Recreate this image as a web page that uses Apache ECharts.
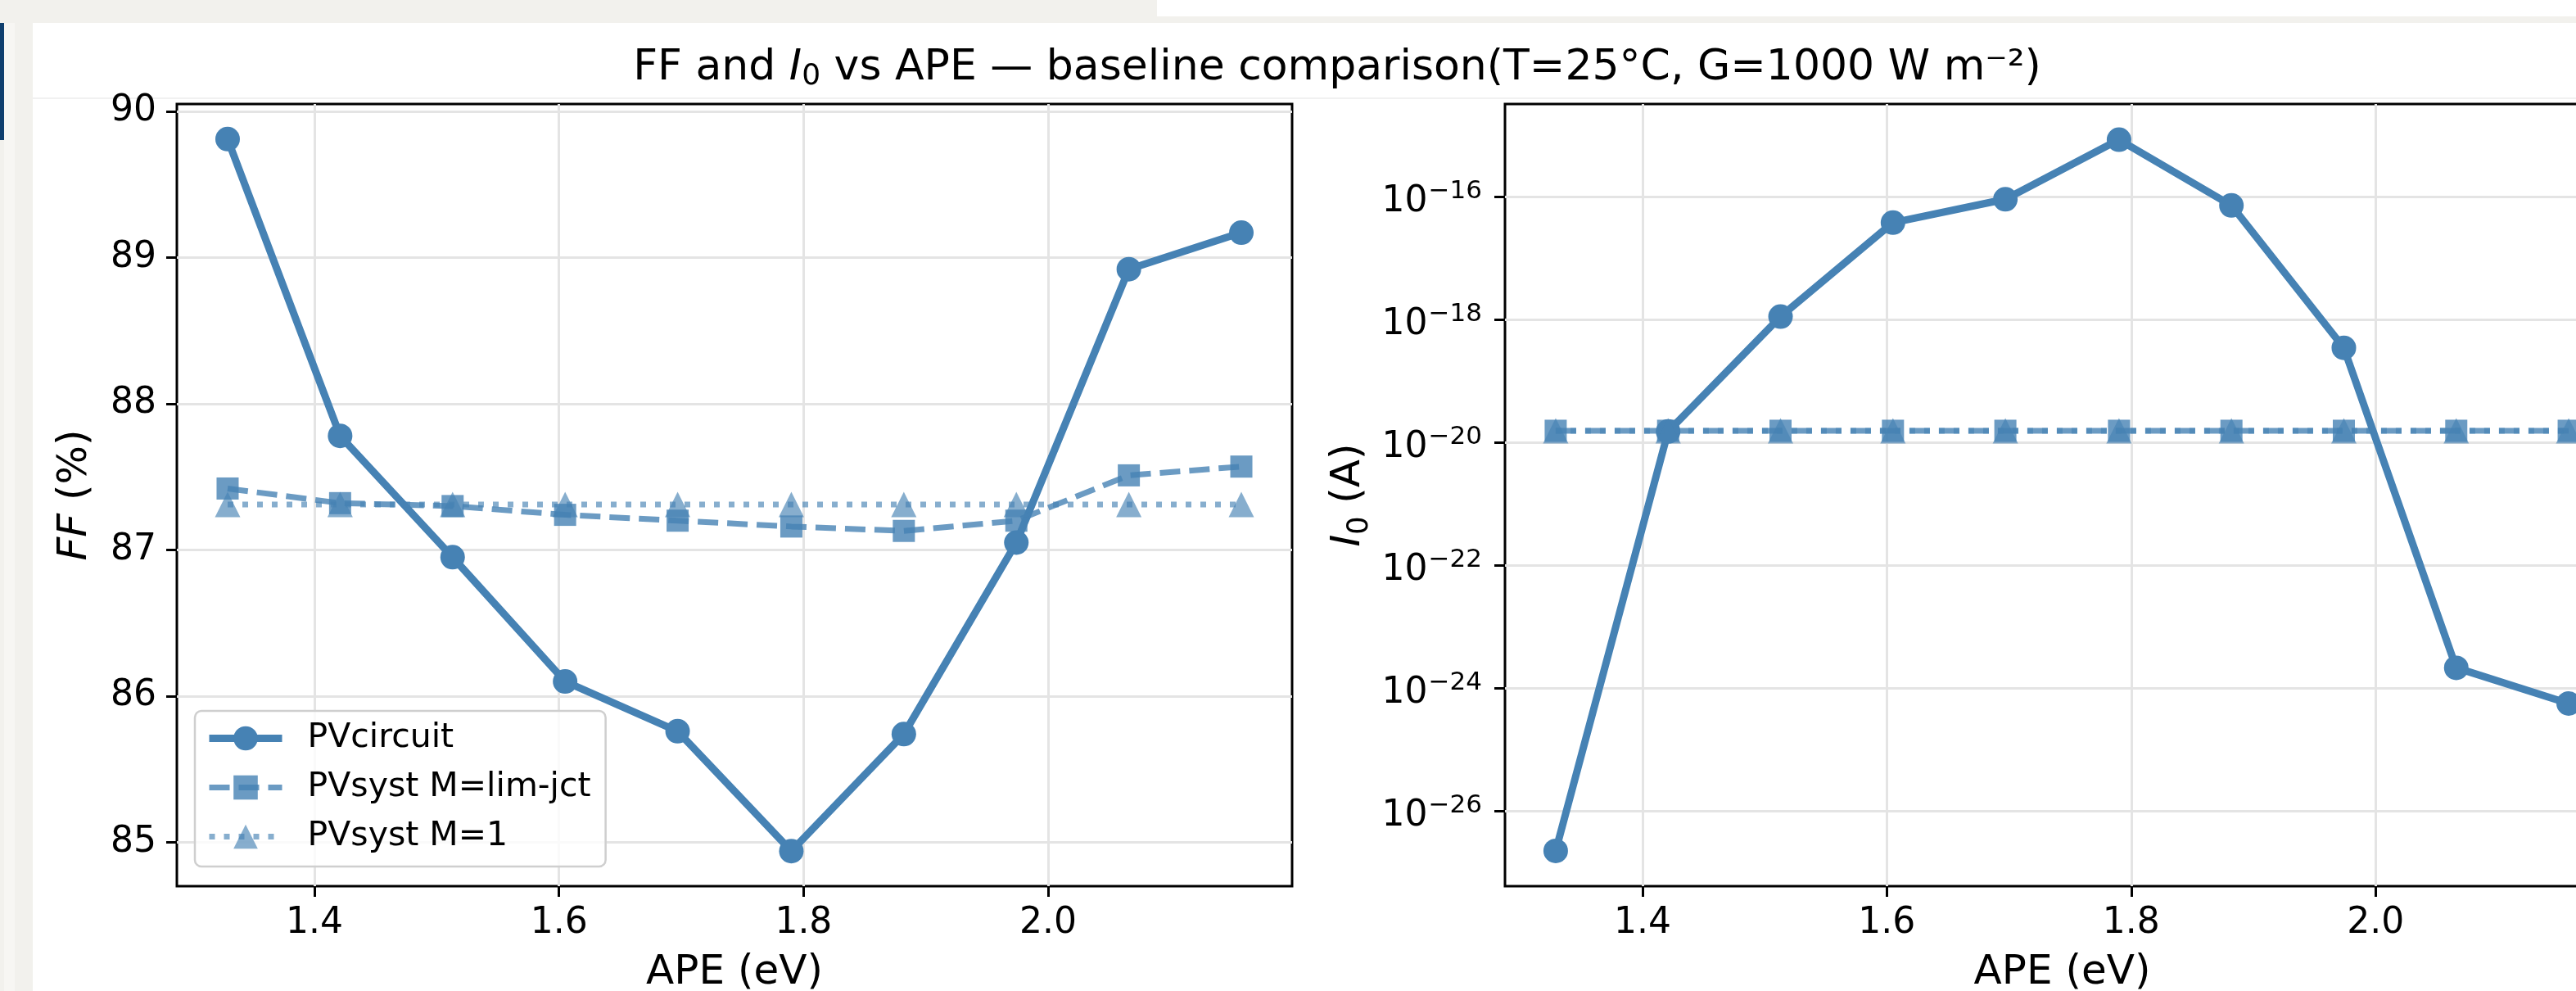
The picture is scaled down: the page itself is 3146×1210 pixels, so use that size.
<!DOCTYPE html>
<html>
<head>
<meta charset="utf-8">
<title>FF and I0 vs APE</title>
<script src="https://cdn.jsdelivr.net/npm/echarts@6/dist/echarts.min.js"></script>
<style>
  html, body { margin: 0; padding: 0; background: #fff; overflow: hidden; }
  .deco { position: absolute; }
  #main { position: absolute; left: 0; top: 0; width: 3146px; height: 1210px; }
</style>
</head>
<body>
<!-- page chrome around the figure -->
<div class="deco" style="left:0;top:0;width:1413px;height:28px;background:#f2f1ed"></div>
<div class="deco" style="left:1413px;top:20px;width:1733px;height:8px;background:#f2f1ed"></div>
<div class="deco" style="left:0;top:28px;width:40px;height:1182px;background:#f2f1ed"></div>
<div class="deco" style="left:5px;top:28px;width:13px;height:1182px;background:#f7f6f3"></div>
<div class="deco" style="left:0;top:28px;width:5px;height:143px;background:#0f3f6e"></div>
<div class="deco" style="left:40px;top:119px;width:3106px;height:2px;background:#f1f1f1"></div>
<div id="main"></div>
<script>
// APE (eV) sample points
var ape = [1.329, 1.421, 1.513, 1.605, 1.697, 1.790, 1.882, 1.974, 2.066, 2.158];

// FF (%)
var ffCircuit = [89.81, 87.78, 86.95, 86.10, 85.76, 84.94, 85.74, 87.05, 88.92, 89.17];
var ffLimJct = [87.42, 87.32, 87.30, 87.24, 87.20, 87.16, 87.13, 87.20, 87.51, 87.57];
var ffM1 = [87.31, 87.31, 87.31, 87.31, 87.31, 87.31, 87.31, 87.31, 87.31, 87.31];

// I0 (A)
var i0Circuit = [2.24e-27, 1.51e-20, 1.12e-18, 3.80e-17, 9.12e-17, 8.5e-16, 7.24e-17, 3.47e-19, 2.14e-24, 5.62e-25];
var i0LimJct = [1.55e-20, 1.55e-20, 1.55e-20, 1.55e-20, 1.55e-20, 1.55e-20, 1.55e-20, 1.55e-20, 1.55e-20, 1.55e-20];
var i0M1 = [1.55e-20, 1.55e-20, 1.55e-20, 1.55e-20, 1.55e-20, 1.55e-20, 1.55e-20, 1.55e-20, 1.55e-20, 1.55e-20];

// ticks
var apeTicks = [1.4, 1.6, 1.8, 2.0];
var ffTicks = [85, 86, 87, 88, 89, 90];
var i0Ticks = [1e-26, 1e-24, 1e-22, 1e-20, 1e-18, 1e-16];

var FONT = 'DejaVu Sans';
var BLUE = '#4682b4';
var GRIDLINE = '#e4e4e4';

// 线型: 实线 / 虚线 / 点线
var W_SOLID = 9, W_SYST = 7;
var DASH = [25, 11], DOT = [7, 11];

function pair(xs, ys) {
	return xs.map(function(x, i) {
		return [x, ys[i]];
	});
}

function expLabel(v) {
	var e = Math.round(Math.log10(v));
	return '{b|10}{e|' + (e < 0 ? '\u2212' : '') + Math.abs(e) + '}';
}

function line(name, idx, data, symbol, size, width, dash, alpha, z) {
	return {
		name: name,
		type: 'line',
		xAxisIndex: idx,
		yAxisIndex: idx,
		data: data,
		symbol: symbol,
		symbolSize: size,
		showSymbol: true,
		lineStyle: { color: BLUE, width: width, type: dash, opacity: alpha },
		itemStyle: { color: BLUE, borderWidth: 0, opacity: alpha },
		emphasis: { disabled: true },
		z: z
	};
}

function xAxisFor(idx) {
	return {
		type: 'value',
		gridIndex: idx,
		min: 1.2875,
		max: 2.1995,
		name: 'APE (eV)',
		nameLocation: 'middle',
		nameGap: 81,
		nameMoveOverlap: false,
		nameTextStyle: { fontFamily: FONT, fontSize: 50, lineHeight: 50, color: '#000' },
		axisLine: { show: false },
		axisTick: { show: true, inside: false, length: 13, lineStyle: { color: '#000', width: 3 }, customValues: apeTicks },
		axisLabel: {
			show: true, margin: 24, fontFamily: FONT, fontSize: 44, color: '#000',
			customValues: apeTicks,
			formatter: function(v) { return v.toFixed(1); }
		},
		splitLine: { show: true, lineStyle: { color: GRIDLINE, width: 3 } }
	};
}

var gridBase = {
	top: 127,
	height: 955,
	show: true,
	borderColor: '#000',
	borderWidth: 3,
	backgroundColor: 'transparent',
	containLabel: false,
	outerBoundsMode: 'none'
};

var myChart = echarts.init(document.getElementById('main'), null, { renderer: 'canvas' });
var option = {
	animation: false,
	backgroundColor: 'transparent',
	title: {
		text: '{n|FF and }{it|I}{sub|0}{n| vs APE \u2014 baseline comparison(T=25\u00b0C, G=1000 W m\u207b\u00b2)}',
		left: 1633,
		top: 57,
		padding: 0,
		textAlign: 'center',
		textStyle: {
			fontFamily: FONT, fontSize: 52, fontWeight: 'normal', color: '#000',
			rich: {
				n: { fontFamily: FONT, fontSize: 52, lineHeight: 52, color: '#000', verticalAlign: 'top' },
				it: { fontFamily: FONT, fontSize: 52, lineHeight: 52, fontStyle: 'italic', color: '#000', verticalAlign: 'top' },
				sub: { fontFamily: FONT, fontSize: 36, lineHeight: 36, color: '#000', verticalAlign: 'top', padding: [19, 0, 0, 0] }
			}
		}
	},
	legend: {
		orient: 'vertical',
		left: 238,
		top: 868,
		data: [
			{ name: 'PVcircuit', lineStyle: { width: W_SOLID } },
			{ name: 'PVsyst M=lim-jct', lineStyle: { width: W_SYST } },
			{ name: 'PVsyst M=1', lineStyle: { width: W_SYST } }
		],
		itemWidth: 89,
		itemHeight: 37,
		itemGap: 19,
		padding: [13, 18, 16, 13],
		backgroundColor: 'rgba(255,255,255,0.8)',
		borderColor: '#cfcfcf',
		borderWidth: 2.5,
		borderRadius: 8,
		selectedMode: false,
		textStyle: { fontFamily: FONT, fontSize: 41, color: '#000', padding: [0, 0, 0, 26] }
	},
	grid: [
		Object.assign({ left: 216, width: 1362 }, gridBase),
		Object.assign({ left: 1838, width: 1361 }, gridBase)
	],
	xAxis: [xAxisFor(0), xAxisFor(1)],
	yAxis: [{
		type: 'value',
		gridIndex: 0,
		min: 84.70,
		max: 90.05,
		name: '{it|FF}{n| (%)}',
		nameLocation: 'middle',
		nameGap: 99,
		nameRotate: 90,
		nameMoveOverlap: false,
		nameTextStyle: {
			rich: {
				it: { fontFamily: FONT, fontSize: 50, lineHeight: 50, fontStyle: 'italic', color: '#000', verticalAlign: 'top' },
				n: { fontFamily: FONT, fontSize: 50, lineHeight: 50, color: '#000', verticalAlign: 'top' }
			}
		},
		axisLine: { show: false },
		axisTick: { show: true, inside: false, length: 13, lineStyle: { color: '#000', width: 3 }, customValues: ffTicks },
		axisLabel: {
			show: true, margin: 25, fontFamily: FONT, fontSize: 44, color: '#000',
			customValues: ffTicks,
			formatter: function(v) { return String(Math.round(v)); }
		},
		splitLine: { show: true, lineStyle: { color: GRIDLINE, width: 3 } }
	}, {
		type: 'log',
		logBase: 10,
		gridIndex: 1,
		min: 5.96e-28,
		max: 3.24e-15,
		name: '{it|I}{sub|0}{n| (A)}',
		nameLocation: 'middle',
		nameGap: 166,
		nameRotate: 90,
		nameMoveOverlap: false,
		nameTextStyle: {
			rich: {
				it: { fontFamily: FONT, fontSize: 50, lineHeight: 50, fontStyle: 'italic', color: '#000', verticalAlign: 'top' },
				sub: { fontFamily: FONT, fontSize: 35, lineHeight: 35, color: '#000', verticalAlign: 'top', padding: [21, 0, 0, 0] },
				n: { fontFamily: FONT, fontSize: 50, lineHeight: 50, color: '#000', verticalAlign: 'top' }
			}
		},
		axisLine: { show: false },
		axisTick: { show: true, inside: false, length: 13, lineStyle: { color: '#000', width: 3 }, customValues: i0Ticks },
		axisLabel: {
			show: true, margin: 28,
			customValues: i0Ticks,
			formatter: expLabel,
			rich: {
				b: { fontFamily: FONT, fontSize: 44, lineHeight: 44, color: '#000', verticalAlign: 'top', padding: [6, 0, 0, 0] },
				e: { fontFamily: FONT, fontSize: 31, lineHeight: 31, color: '#000', verticalAlign: 'top', padding: [0, 0, 0, 1] }
			}
		},
		splitLine: { show: true, lineStyle: { color: GRIDLINE, width: 3 } }
	}],
	series: [
		line('PVcircuit', 0, pair(ape, ffCircuit), 'circle', 30, W_SOLID, 'solid', 1, 3),
		line('PVsyst M=lim-jct', 0, pair(ape, ffLimJct), 'rect', 27, W_SYST, DASH, 0.8, 4),
		line('PVsyst M=1', 0, pair(ape, ffM1), 'triangle', 31, W_SYST, DOT, 0.65, 5),
		line('PVcircuit', 1, pair(ape, i0Circuit), 'circle', 30, W_SOLID, 'solid', 1, 3),
		line('PVsyst M=lim-jct', 1, pair(ape, i0LimJct), 'rect', 27, W_SYST, DASH, 0.8, 4),
		line('PVsyst M=1', 1, pair(ape, i0M1), 'triangle', 31, W_SYST, DOT, 0.65, 5)
	]
};
myChart.setOption(option);
</script>
</body>
</html>
